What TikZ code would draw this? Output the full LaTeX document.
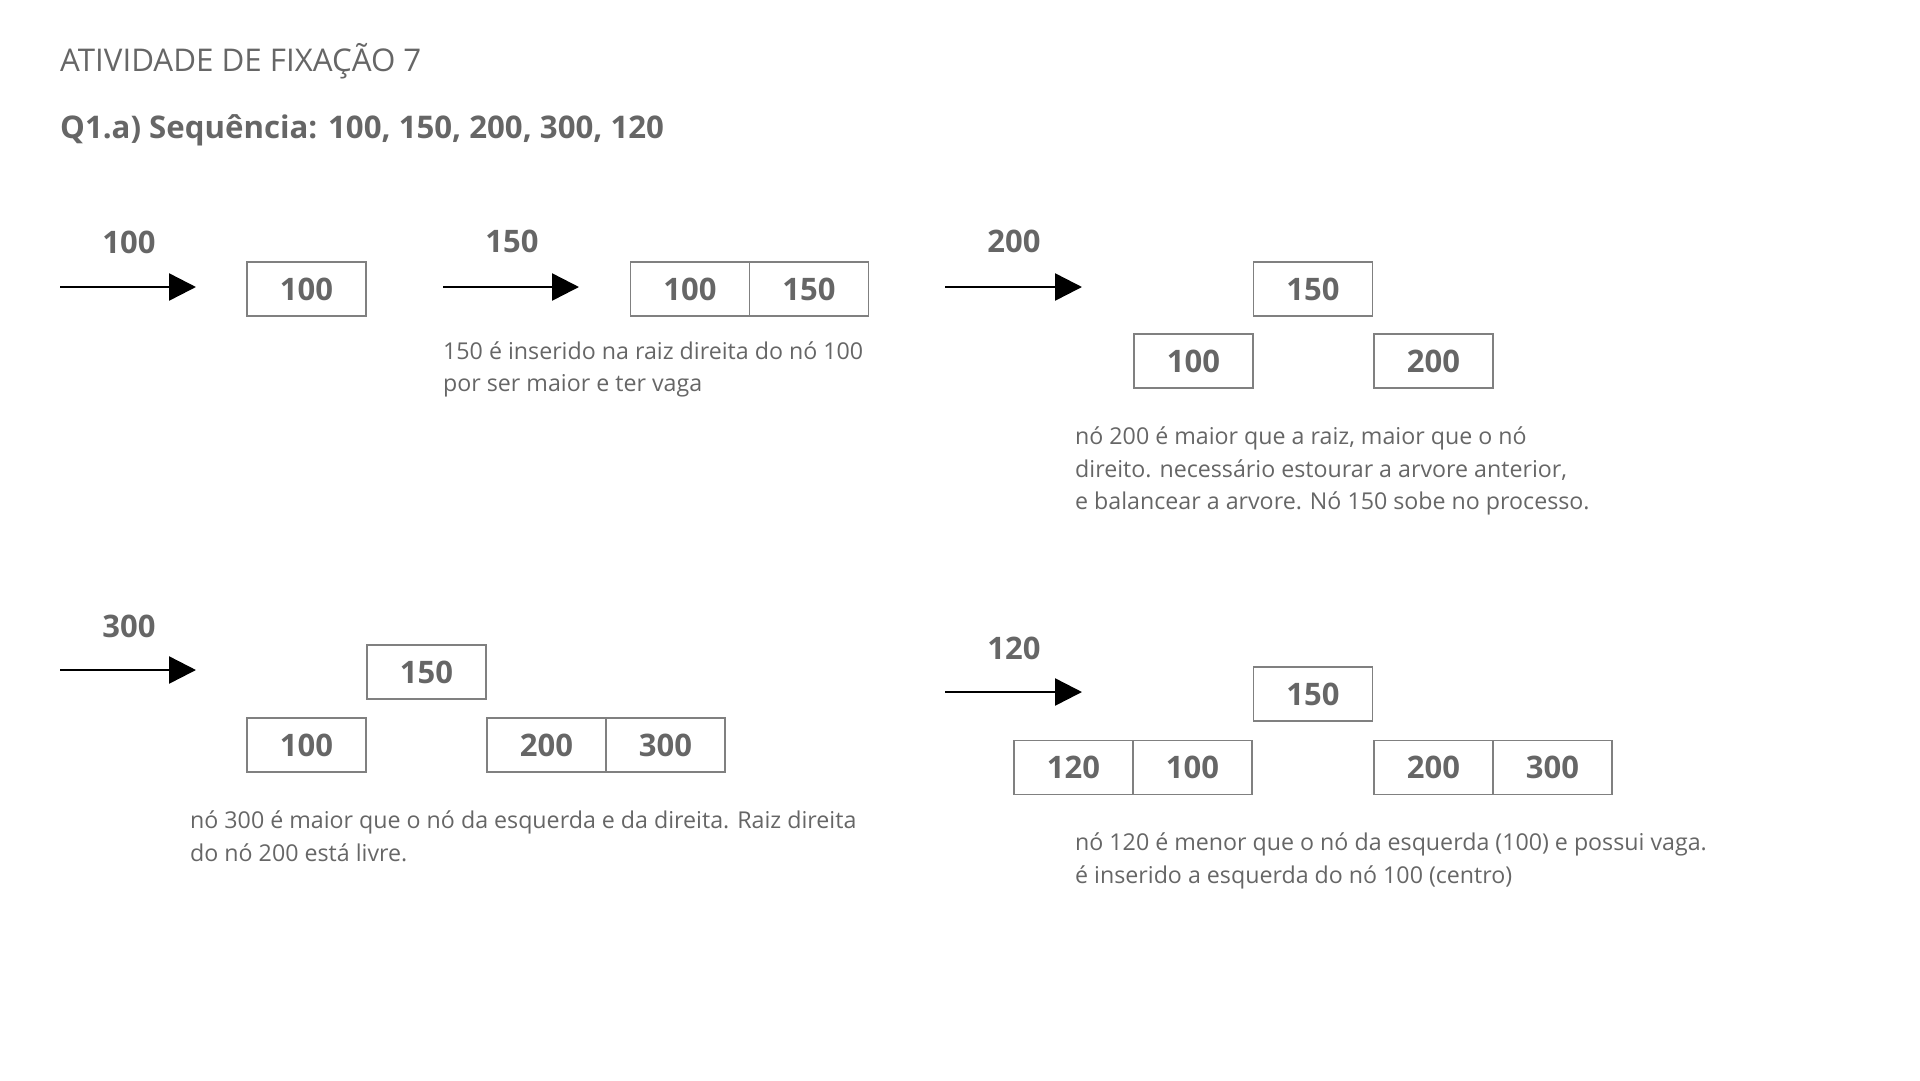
\documentclass[tikz,border=0pt]{standalone}
\usepackage{fontspec}
\setmainfont{Open Sans}
\usetikzlibrary{arrows.meta,positioning}
\definecolor{txtgray}{HTML}{666666}
\definecolor{boxgray}{HTML}{808080}
\tikzset{
  keybox/.style={draw=boxgray, line width=1.2pt, minimum width=119pt, minimum height=54pt, inner sep=0pt, outer sep=0pt, text=txtgray, font=\fontsize{31}{31}\selectfont\bfseries},
  inslabel/.style={text=txtgray, font=\fontsize{31}{31}\selectfont\bfseries, inner sep=0pt},
  insarrow/.style={line width=2.5pt, -{Triangle[length=27pt,width=27pt]}},
  note/.style={text=txtgray, font=\fontsize{23.2}{32.5}\selectfont, align=left, anchor=base west, inner sep=0pt},
}
\begin{document}
\begin{tikzpicture}[x=1pt,y=-1pt]
\useasboundingbox (0,0) rectangle (1920,1080);
\node[anchor=base west, inner sep=0pt, text=txtgray, font=\fontsize{31.3}{31.3}\selectfont] (titulo) at (60,71) {ATIVIDADE DE FIXAÇÃO 7};
\node[anchor=base west, inner sep=0pt, text=txtgray, font=\fontsize{31.2}{31.2}\selectfont\bfseries] (questao) at (60,138) {Q1.a) Sequência: 100, 150, 200, 300, 120};
% insere 100
\node[inslabel] (in100) at (129,242) {100};
\coordinate (a1s) at (60,287); \coordinate (a1e) at (196,287);
\draw[insarrow] (a1s) -- (a1e);
\node[keybox] (p1a) at (306.5,289) {100};
% insere 150
\node[inslabel] (in150) at (512,241) {150};
\coordinate (a2s) at (443,287); \coordinate (a2e) at (579,287);
\draw[insarrow] (a2s) -- (a2e);
\node[keybox] (p2a) at (690,289) {100};
\node[keybox, right=0pt of p2a] (p2b) {150};
\node[note] (n2) at (443,391.5) {150 é inserido na raiz direita do nó 100\\por ser maior e ter vaga};
% insere 200
\node[inslabel] (in200) at (1014,241) {200};
\coordinate (a3s) at (945,287); \coordinate (a3e) at (1082,287);
\draw[insarrow] (a3s) -- (a3e);
\node[keybox] (p3r) at (1313,289) {150};
\node[keybox] (p3l) at (1193.5,361) {100};
\node[keybox] (p3d) at (1433.5,361) {200};
\node[note] (n3) at (1075,509.5) {nó 200 é maior que a raiz, maior que o nó\\direito. necessário estourar a arvore anterior,\\e balancear a arvore. Nó 150 sobe no processo.};
% insere 300
\node[inslabel] (in300) at (129,626) {300};
\coordinate (a4s) at (60,670); \coordinate (a4e) at (196,670);
\draw[insarrow] (a4s) -- (a4e);
\node[keybox] (p4r) at (426.5,672) {150};
\node[keybox] (p4l) at (306.5,745) {100};
\node[keybox] (p4d) at (546.5,745) {200};
\node[keybox, right=0pt of p4d] (p4e) {300};
\node[note] (n4) at (190,861) {nó 300 é maior que o nó da esquerda e da direita. Raiz direita\\do nó 200 está livre.};
% insere 120
\node[inslabel] (in120) at (1014,648) {120};
\coordinate (a5s) at (945,692); \coordinate (a5e) at (1082,692);
\draw[insarrow] (a5s) -- (a5e);
\node[keybox] (p5r) at (1313,694) {150};
\node[keybox] (p5l) at (1073.5,767.5) {120};
\node[keybox, right=0pt of p5l] (p5m) {100};
\node[keybox] (p5d) at (1433.5,767.5) {200};
\node[keybox, right=0pt of p5d] (p5e) {300};
\node[note] (n5) at (1075,883) {nó 120 é menor que o nó da esquerda (100) e possui vaga.\\é inserido a esquerda do nó 100 (centro)};
\end{tikzpicture}
\end{document}
